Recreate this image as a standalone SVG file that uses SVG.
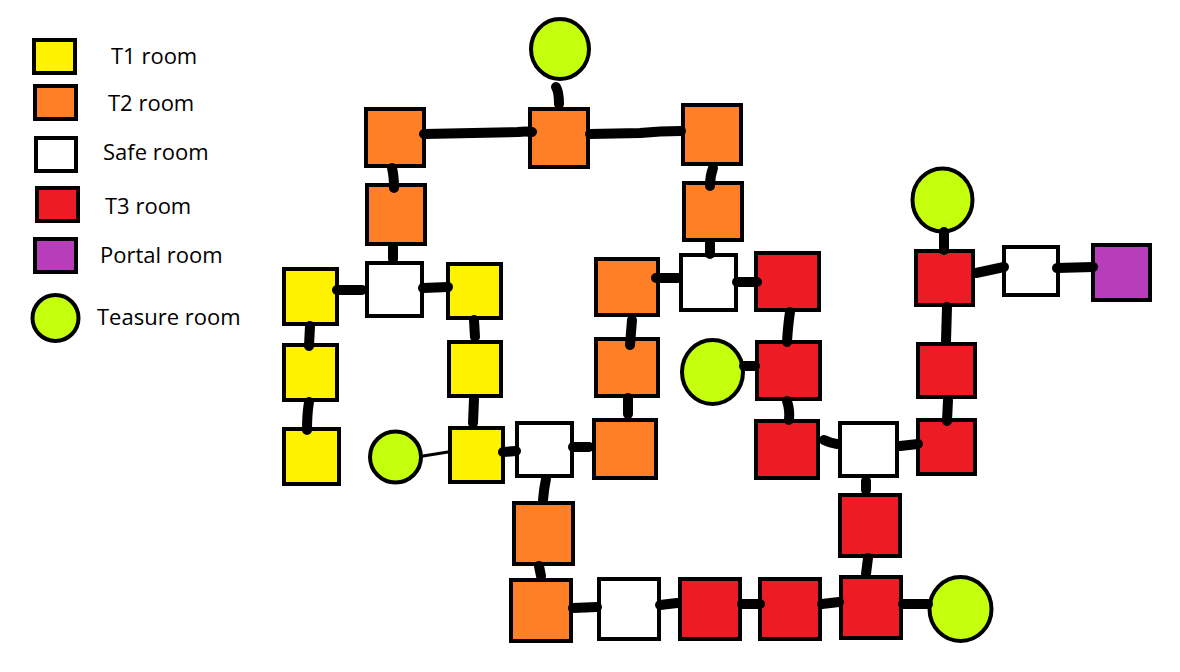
<svg xmlns="http://www.w3.org/2000/svg" width="1180" height="672" viewBox="0 0 1180 672">
<style>
.n{stroke:#000;stroke-width:4}
.t1{fill:#FFF200}.t2{fill:#FF7F27}.safe{fill:#FFFFFF}.t3{fill:#ED1C24}.portal{fill:#B83DBA}.tr{fill:#C4FF0E}
.c{fill:none;stroke:#000;stroke-width:10;stroke-linecap:round;stroke-linejoin:round}
.thin{fill:none;stroke:#000;stroke-width:3;stroke-linecap:round}
.lbl{font-family:"Open Sans","Noto Sans","Liberation Sans",sans-serif;font-size:22px;fill:#000}
</style>
<rect width="1180" height="672" fill="#fff"/>
<g id="legend">
<g id="legend-t1"><rect class="n t1" x="34" y="40" width="41" height="33"/><text class="lbl" x="111" y="64">T1 room</text></g>
<g id="legend-t2"><rect class="n t2" x="35" y="86" width="41" height="33"/><text class="lbl" x="108" y="111">T2 room</text></g>
<g id="legend-safe"><rect class="n safe" x="36" y="138" width="40" height="33"/><text class="lbl" x="103" y="160">Safe room</text></g>
<g id="legend-t3"><rect class="n t3" x="37" y="188" width="41" height="33"/><text class="lbl" x="105" y="214">T3 room</text></g>
<g id="legend-portal"><rect class="n portal" x="35" y="239" width="41" height="33"/><text class="lbl" x="100" y="263">Portal room</text></g>
<g id="legend-treasure"><circle class="n tr" cx="55.5" cy="318" r="23"/><text class="lbl" x="97" y="325">Teasure room</text></g>
</g>
<g id="nodes">
<g id="top-circle"><ellipse class="n tr" cx="560" cy="49" rx="29" ry="30"/></g>
<g id="A"><rect class="n t2" x="366" y="109" width="58" height="57"/></g>
<g id="B"><rect class="n t2" x="530" y="109" width="58" height="58"/></g>
<g id="C"><rect class="n t2" x="683" y="105" width="58" height="59"/></g>
<g id="D"><rect class="n t2" x="367" y="185" width="58" height="59"/></g>
<g id="E"><rect class="n t2" x="684" y="183" width="58" height="57"/></g>
<g id="F"><rect class="n safe" x="367" y="263" width="55" height="53"/></g>
<g id="G"><rect class="n t1" x="284" y="269" width="53" height="55"/></g>
<g id="H"><rect class="n t1" x="448" y="264" width="53" height="54"/></g>
<g id="I"><rect class="n t2" x="596" y="259" width="62" height="56"/></g>
<g id="J"><rect class="n safe" x="681" y="255" width="55" height="55"/></g>
<g id="K"><rect class="n t3" x="756" y="253" width="63" height="57"/></g>
<g id="L"><rect class="n t2" x="596" y="339" width="62" height="57"/></g>
<g id="M"><rect class="n t2" x="594" y="420" width="62" height="58"/></g>
<g id="N"><ellipse class="n tr" cx="712.5" cy="372" rx="30.5" ry="32"/></g>
<g id="O"><rect class="n t3" x="757" y="342" width="63" height="57"/></g>
<g id="P"><rect class="n t3" x="756" y="421" width="62" height="57"/></g>
<g id="Q"><rect class="n safe" x="840" y="423" width="57" height="53"/></g>
<g id="R"><rect class="n t3" x="918" y="420" width="57" height="54"/></g>
<g id="S"><rect class="n t3" x="918" y="344" width="57" height="53"/></g>
<g id="T"><rect class="n t3" x="916" y="251" width="57" height="54"/></g>
<g id="U"><ellipse class="n tr" cx="942.5" cy="200" rx="30" ry="31.5"/></g>
<g id="V"><rect class="n safe" x="1004" y="247" width="54" height="48"/></g>
<g id="W"><rect class="n portal" x="1093" y="245" width="57" height="55"/></g>
<g id="X"><rect class="n t1" x="284" y="345" width="53" height="55"/></g>
<g id="Y"><rect class="n t1" x="284" y="429" width="55" height="55"/></g>
<g id="Z"><circle class="n tr" cx="395.5" cy="457" r="25.5"/></g>
<g id="AA"><rect class="n t1" x="449" y="342" width="52" height="54"/></g>
<g id="AB"><rect class="n t1" x="450" y="428" width="53" height="54"/></g>
<g id="AC"><rect class="n safe" x="517" y="423" width="55" height="53"/></g>
<g id="AD"><rect class="n t2" x="514" y="503" width="59" height="61"/></g>
<g id="AE"><rect class="n t2" x="511" y="580" width="60" height="61"/></g>
<g id="AF"><rect class="n safe" x="599" y="579" width="60" height="60"/></g>
<g id="AG"><rect class="n t3" x="680" y="579" width="60" height="60"/></g>
<g id="AH"><rect class="n t3" x="760" y="579" width="60" height="60"/></g>
<g id="AI"><rect class="n t3" x="841" y="577" width="60" height="61"/></g>
<g id="AJ"><rect class="n t3" x="840" y="495" width="60" height="61"/></g>
<g id="AK"><ellipse class="n tr" cx="960.5" cy="609" rx="31" ry="32"/></g>
</g>
<g id="connectors">
<path class="c" d="M556 87 Q559 92 559 104"/>
<path class="c" d="M424 134 L518 132 Q526 131 532 132"/>
<path class="c" d="M590 134 L640 133 Q660 131 681 131"/>
<path class="c" d="M392 168 Q394 176 394 188"/>
<path class="c" d="M713 168 Q710 176 710 186"/>
<path class="c" d="M393 247 L393 259"/>
<path class="c" d="M710 243 L710 254"/>
<path class="c" d="M337 290 L362 290"/>
<path class="c" d="M423 288 L448 287"/>
<path class="c" d="M656 278 L678 278"/>
<path class="c" d="M737 282 L757 282"/>
<path class="c" d="M310 326 L309 346"/>
<path class="c" d="M309 402 Q307 414 307 430"/>
<path class="c" d="M474 320 L475 337"/>
<path class="c" d="M474 399 L473 423"/>
<path class="thin" d="M423 456 L448 452"/>
<path class="c" d="M503 452 L516 451"/>
<path class="c" d="M573 447 L589 447"/>
<path class="c" d="M632 320 L630 345"/>
<path class="c" d="M628 398 L628 414"/>
<path class="c" d="M790 312 Q788 325 787 342"/>
<path class="c" d="M744 366 L755 366"/>
<path class="c" d="M787 401 Q790 410 789 420"/>
<path class="c" d="M824 440 Q830 443 837 444"/>
<path class="c" d="M900 446 L918 444"/>
<path class="c" d="M866 481 L866 490"/>
<path class="c" d="M868 558 L866 574"/>
<path class="c" d="M903 604 L928 604"/>
<path class="c" d="M822 604 L839 602"/>
<path class="c" d="M742 604 L760 604"/>
<path class="c" d="M660 605 L677 603"/>
<path class="c" d="M573 608 L597 607"/>
<path class="c" d="M539 566 L541 576"/>
<path class="c" d="M546 479 Q544 488 543 500"/>
<path class="c" d="M948 400 L947 421"/>
<path class="c" d="M947 307 L946 341"/>
<path class="c" d="M944 232 L944 250"/>
<path class="c" d="M976 273 Q990 270 1004 267"/>
<path class="c" d="M1057 268 L1093 267"/>
</g>
</svg>
